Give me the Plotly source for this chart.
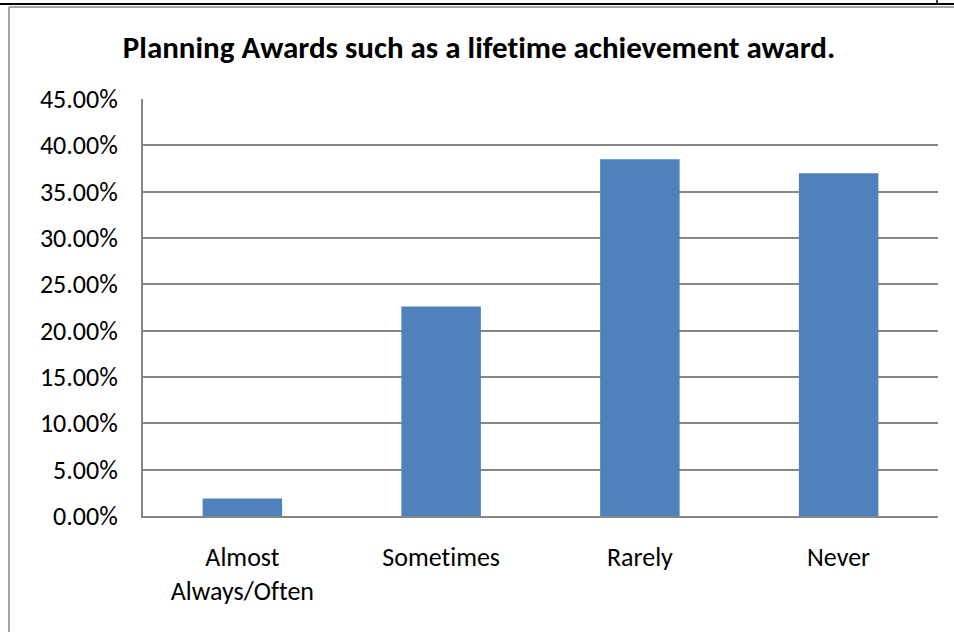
import plotly.graph_objects as go

categories = ["Almost<br>Always/Often", "Sometimes", "Rarely", "Never"]
values = [0.019, 0.226, 0.385, 0.370]
tick_vals = [0, 0.05, 0.10, 0.15, 0.20, 0.25, 0.30, 0.35, 0.40, 0.45]
tick_text = ["0.00%", "5.00%", "10.00%", "15.00%", "20.00%", "25.00%", "30.00%", "35.00%", "40.00%", "45.00%"]
title_text = "Planning Awards such as a lifetime achievement award."

W, H = 954, 632
L, R, T, B = 143, 938, 99, 516

def px(x):
    return (x - L) / (R - L)

def py(y):
    return (B - y) / (B - T)

FONT = "Carlito, Calibri, Lato, 'Open Sans', sans-serif"

fig = go.Figure(go.Bar(x=categories, y=values, marker=dict(color="#4F81BD", line=dict(width=0)), width=0.4))

fig.update_layout(
    width=W, height=H,
    margin=dict(l=L, r=W - R, t=T, b=H - B),
    paper_bgcolor="white", plot_bgcolor="white",
    showlegend=False,
    font=dict(family=FONT, size=26, color="black"),
    title=dict(text="<b>" + title_text + "</b>", x=479 / W, xanchor="center", y=1 - 47 / H, yanchor="middle",
               font=dict(size=31, family=FONT, color="black")),
    xaxis=dict(showgrid=False, showline=True, linecolor="#868686", linewidth=2, ticks="",
               ticklabelstandoff=17, tickfont=dict(size=26)),
    yaxis=dict(range=[0, 0.45], tickvals=tick_vals, ticktext=tick_text, showgrid=True, gridcolor="#868686",
               gridwidth=1.5, showline=True, linecolor="#868686", linewidth=2, ticks="", zeroline=False,
               ticklabelstandoff=18, tickfont=dict(size=26)),
    shapes=[
        dict(type="line", xref="paper", yref="paper", x0=px(0), x1=px(W), y0=py(4), y1=py(4), line=dict(color="black", width=2)),
        dict(type="line", xref="paper", yref="paper", x0=px(937), x1=px(937), y0=py(0), y1=py(4), line=dict(color="black", width=1.5)),
        dict(type="line", xref="paper", yref="paper", x0=px(9), x1=px(W), y0=py(7), y1=py(7), line=dict(color="#A6A6A6", width=2)),
        dict(type="line", xref="paper", yref="paper", x0=px(9), x1=px(9), y0=py(7), y1=py(H), line=dict(color="#A6A6A6", width=2)),
    ],
)

post = (
    "document.body.style.margin='0';document.body.style.padding='0';"
    "var s=document.createElement('style');"
    "s.textContent='text{font-variant-ligatures:none !important;font-feature-settings:\"liga\" 0 !important;}';"
    "document.head.appendChild(s);"
)
fig.write_html("out.html", config={"displayModeBar": False}, post_script=post)
